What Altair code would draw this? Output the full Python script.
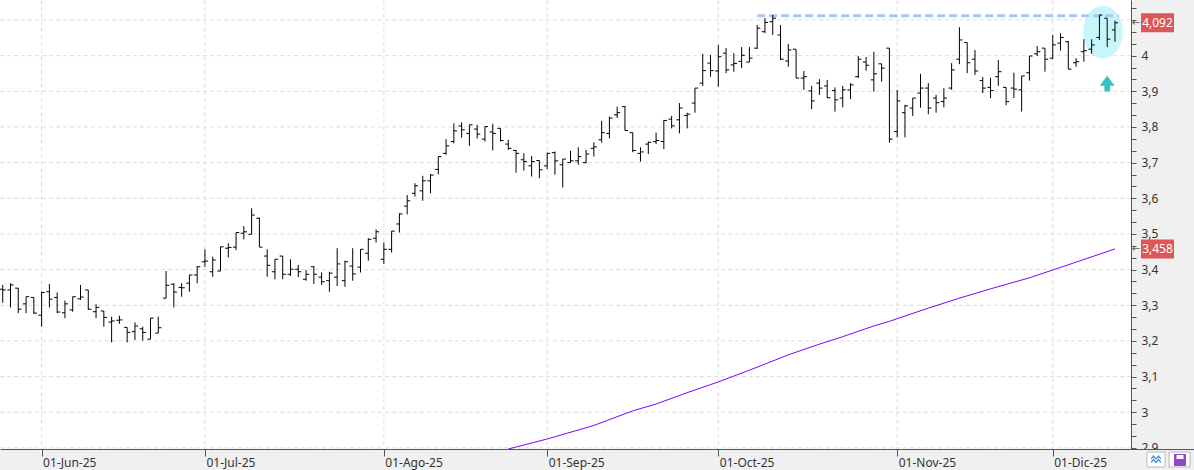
import altair as alt
import pandas as pd

# ---------------- data ----------------
dates = pd.bdate_range("2025-05-26", "2025-12-11")  # 144 sessions

opens = [
    3.345, 3.343, 3.348, 3.304, 3.322, 3.272, 3.338, 3.322, 3.279, 3.287,
    3.318, 3.343, 3.282, 3.284, 3.253, 3.258, 3.238, 3.226, 3.234, 3.205,
    3.222, 3.320, 3.359, 3.350, 3.362, 3.385, 3.422, 3.394, 3.396, 3.460,
    3.463, 3.502, 3.499, 3.544, 3.438, 3.394, 3.438, 3.387, 3.401, 3.373,
    3.408, 3.379, 3.369, 3.379, 3.369, 3.410, 3.407, 3.446, 3.488, 3.429,
    3.457, 3.528, 3.578, 3.614, 3.621, 3.649, 3.681, 3.726, 3.759, 3.803,
    3.782, 3.794, 3.766, 3.786, 3.796, 3.752, 3.734, 3.708, 3.691, 3.706,
    3.691, 3.728, 3.694, 3.700, 3.705, 3.700, 3.740, 3.764, 3.782, 3.834,
    3.857, 3.784, 3.726, 3.752, 3.759, 3.759, 3.822, 3.820, 3.832, 3.867,
    3.923, 3.979, 3.957, 4.007, 3.974, 3.984, 3.982, 4.021, 4.067, 4.095,
    4.058, 3.985, 4.018, 3.937, 3.901, 3.923, 3.915, 3.902, 3.881, 3.904,
    3.941, 3.982, 3.932, 3.977, 4.021, 3.787, 3.840, 3.853, 3.895, 3.909,
    3.881, 3.871, 3.909, 3.990, 4.037, 3.990, 3.930, 3.911, 3.941, 3.911,
    3.909, 3.904, 3.952, 4.005, 4.021, 3.993, 4.035, 4.039, 3.980, 4.011,
    4.018, 4.051, 4.105, 4.072]

highs = [
    3.357, 3.362, 3.348, 3.324, 3.322, 3.338, 3.360, 3.336, 3.313, 3.324,
    3.357, 3.343, 3.303, 3.284, 3.268, 3.271, 3.238, 3.252, 3.240, 3.264,
    3.268, 3.396, 3.362, 3.362, 3.385, 3.410, 3.457, 3.436, 3.464, 3.474,
    3.504, 3.522, 3.572, 3.546, 3.457, 3.429, 3.438, 3.429, 3.413, 3.399,
    3.410, 3.392, 3.394, 3.460, 3.425, 3.460, 3.457, 3.488, 3.513, 3.476,
    3.508, 3.558, 3.609, 3.642, 3.663, 3.668, 3.717, 3.766, 3.810, 3.813,
    3.806, 3.806, 3.801, 3.809, 3.796, 3.764, 3.736, 3.726, 3.719, 3.706,
    3.728, 3.731, 3.710, 3.733, 3.743, 3.736, 3.757, 3.817, 3.829, 3.857,
    3.859, 3.784, 3.743, 3.759, 3.784, 3.820, 3.831, 3.867, 3.840, 3.909,
    4.005, 4.002, 4.030, 4.021, 4.007, 4.024, 4.024, 4.086, 4.105, 4.114,
    4.086, 4.033, 4.018, 3.957, 3.915, 3.934, 3.932, 3.911, 3.915, 3.923,
    3.999, 3.996, 4.011, 3.977, 4.021, 3.904, 3.862, 3.881, 3.949, 3.923,
    3.890, 3.909, 3.979, 4.080, 4.037, 4.016, 3.940, 3.938, 3.988, 3.911,
    3.952, 3.943, 3.999, 4.027, 4.021, 4.058, 4.063, 4.041, 3.993, 4.046,
    4.046, 4.114, 4.105, 4.098]

lows = [
    3.307, 3.294, 3.278, 3.278, 3.276, 3.240, 3.294, 3.278, 3.264, 3.282,
    3.315, 3.287, 3.264, 3.240, 3.196, 3.248, 3.196, 3.203, 3.201, 3.205,
    3.222, 3.320, 3.294, 3.324, 3.338, 3.362, 3.408, 3.380, 3.396, 3.434,
    3.455, 3.485, 3.499, 3.463, 3.380, 3.373, 3.373, 3.382, 3.379, 3.369,
    3.360, 3.357, 3.338, 3.354, 3.352, 3.369, 3.392, 3.425, 3.476, 3.416,
    3.448, 3.504, 3.555, 3.605, 3.593, 3.614, 3.667, 3.722, 3.754, 3.770,
    3.747, 3.768, 3.759, 3.734, 3.759, 3.736, 3.672, 3.678, 3.661, 3.656,
    3.682, 3.666, 3.630, 3.700, 3.694, 3.698, 3.717, 3.756, 3.768, 3.825,
    3.790, 3.729, 3.703, 3.724, 3.752, 3.738, 3.796, 3.782, 3.796, 3.840,
    3.915, 3.941, 3.913, 3.951, 3.955, 3.965, 3.982, 4.019, 4.063, 4.058,
    3.988, 3.969, 3.937, 3.904, 3.850, 3.890, 3.881, 3.843, 3.855, 3.878,
    3.937, 3.958, 3.899, 3.927, 3.756, 3.771, 3.771, 3.831, 3.854, 3.836,
    3.840, 3.855, 3.904, 3.976, 3.951, 3.946, 3.895, 3.881, 3.915, 3.861,
    3.881, 3.843, 3.930, 3.999, 3.955, 3.990, 4.014, 3.962, 3.969, 3.983,
    4.005, 4.044, 4.024, 4.039]

closes = [
    3.343, 3.357, 3.289, 3.324, 3.278, 3.336, 3.317, 3.281, 3.304, 3.324,
    3.323, 3.289, 3.294, 3.266, 3.256, 3.259, 3.224, 3.242, 3.224, 3.264,
    3.237, 3.356, 3.337, 3.349, 3.385, 3.408, 3.424, 3.427, 3.464, 3.462,
    3.504, 3.506, 3.553, 3.463, 3.412, 3.429, 3.387, 3.401, 3.394, 3.387,
    3.387, 3.366, 3.390, 3.416, 3.422, 3.388, 3.457, 3.485, 3.506, 3.457,
    3.508, 3.556, 3.593, 3.635, 3.649, 3.665, 3.717, 3.747, 3.789, 3.792,
    3.806, 3.780, 3.801, 3.782, 3.762, 3.740, 3.726, 3.703, 3.703, 3.680,
    3.726, 3.705, 3.710, 3.705, 3.717, 3.724, 3.744, 3.784, 3.825, 3.840,
    3.790, 3.734, 3.730, 3.757, 3.762, 3.818, 3.803, 3.853, 3.836, 3.909,
    3.958, 3.958, 3.997, 3.960, 3.978, 4.001, 3.993, 4.077, 4.093, 4.105,
    3.990, 4.016, 3.937, 3.941, 3.873, 3.909, 3.882, 3.876, 3.904, 3.918,
    3.990, 3.973, 3.949, 3.965, 3.766, 3.873, 3.859, 3.881, 3.909, 3.853,
    3.868, 3.881, 3.960, 4.044, 3.980, 3.957, 3.909, 3.902, 3.955, 3.871,
    3.906, 3.943, 3.999, 4.011, 3.990, 4.030, 4.051, 3.962, 3.983, 4.014,
    4.030, 4.114, 4.046, 4.092]

# moving average (purple line), sampled at session indices
ma_idx = [65, 70, 76, 81, 84, 88, 92, 96, 101, 105, 108, 112, 114, 119,
          123, 127, 132, 135, 138, 143]
ma_val = [2.897, 2.925, 2.963, 3.004, 3.023, 3.055, 3.085, 3.118, 3.161,
          3.191, 3.212, 3.242, 3.255, 3.292, 3.320, 3.346, 3.377, 3.399,
          3.421, 3.458]

month_labels = ["01-Jun-25", "01-Jul-25", "01-Ago-25", "01-Sep-25",
                "01-Oct-25", "01-Nov-25", "01-Dic-25"]
y_major = [2.9, 3.0, 3.1, 3.2, 3.3, 3.4, 3.5, 3.6, 3.7, 3.8, 3.9, 4.0, 4.1]

resistance_level = 4.112
resistance_from = 97
resistance_to = 143.5
highlight_i, highlight_v = 141.46, 4.066
signal_i, signal_v = 142.0, 3.921

# ---------------- build ----------------
n = len(closes)
month_tick_idx = [i for i in range(1, n) if dates[i].month != dates[i - 1].month]

df = pd.DataFrame({"i": list(range(n)), "date": dates.strftime("%Y-%m-%d"),
                   "o": opens, "h": highs, "l": lows, "c": closes})
df["il"] = df["i"] - 0.4
df["ir"] = df["i"] + 0.4

FONT = "Noto Sans"
xscale = alt.Scale(domain=[-0.35, 145.06], nice=False, zero=False)
yscale = alt.Scale(domain=[2.897, 4.156], nice=False, zero=False)

x_expr = "".join(f"datum.value == {i} ? '{lab}' : " for i, lab in zip(month_tick_idx, month_labels)) + "''"
xaxis = alt.Axis(values=month_tick_idx, labelExpr=x_expr, grid=False, title=None,
                 tickSize=7, labelPadding=1, labelAlign="left", labelBaseline="top",
                 labelOffset=1, labelFlush=False, labelOverlap=False,
                 domainColor="#555555", tickColor="#555555", labelColor="#333333",
                 labelFont=FONT, labelFontSize=12)

y_ticks = [round(2.9 + k / 30, 4) for k in range(38)]
# major labels only; the 4,1 label sits under the last-price tag in the reference
y_expr = ("abs(datum.value*10 - round(datum.value*10)) < 0.01 && datum.value < 4.05 ? "
          "replace(format(datum.value, '.1~f'), '.', ',') : ''")
yaxis = alt.Axis(orient="right", values=y_ticks, labelExpr=y_expr, grid=False, title=None,
                 tickSize=5, labelPadding=5, labelOverlap=False, labelFlush=False,
                 domainColor="#555555", tickColor="#555555", labelColor="#333333",
                 labelFont=FONT, labelFontSize=12, labelBaseline="middle")


def X(f):
    return alt.X(f, type="quantitative", scale=xscale, axis=xaxis)


def Y(f):
    return alt.Y(f, type="quantitative", scale=yscale, axis=yaxis)


grid_h = alt.Chart(pd.DataFrame({"v": y_major})).mark_rule(
    color="#dddddd", strokeDash=[4, 3], strokeWidth=1).encode(y=Y("v"))
grid_v = alt.Chart(pd.DataFrame({"i": month_tick_idx})).mark_rule(
    color="#dddddd", strokeDash=[4, 3], strokeWidth=1).encode(x=X("i"))

ellipse_path = "M -0.75 0 A 0.75 1 0 1 0 0.75 0 A 0.75 1 0 1 0 -0.75 0 Z"
ellipse = alt.Chart(pd.DataFrame({"i": [highlight_i], "v": [highlight_v]})).mark_point(
    shape=ellipse_path, size=2767, filled=True, color="#c6f6fa", opacity=1, strokeWidth=0
).encode(x=X("i"), y=Y("v"))

ma = alt.Chart(pd.DataFrame({"i": ma_idx, "v": ma_val})).mark_line(
    color="#8000ff", strokeWidth=1, clip=True).encode(x=X("i"), y=Y("v"))

resistance = alt.Chart(pd.DataFrame({"a": [resistance_from], "b": [resistance_to],
                                     "v": [resistance_level]})).mark_rule(
    color="#a9c8ee", strokeWidth=3, strokeDash=[8, 4]).encode(x=X("a"), x2="b", y=Y("v"))

hl = alt.Chart(df).mark_rule(color="black", strokeWidth=1).encode(x=X("i"), y=Y("l"), y2="h")
op = alt.Chart(df).mark_rule(color="black", strokeWidth=1).encode(x=X("il"), x2="i", y=Y("o"))
cl = alt.Chart(df).mark_rule(color="black", strokeWidth=1).encode(x=X("i"), x2="ir", y=Y("c"))

arrow_path = "M 0 -1 L 0.94 0.25 L 0.36 0.25 L 0.36 0.96 L -0.36 0.96 L -0.36 0.25 L -0.94 0.25 Z"
arrow = alt.Chart(pd.DataFrame({"i": [signal_i], "v": [signal_v]})).mark_point(
    shape=arrow_path, size=256, filled=True, color="#33c3c6", opacity=1, strokeWidth=0
).encode(x=X("i"), y=Y("v"))

one = pd.DataFrame({"a": [0]})
corner = alt.Chart(one).mark_rect(color="#f0f0f0").encode(
    x=alt.value(1131.5), x2=alt.value(1194), y=alt.value(449.5), y2=alt.value(470))
corner_line = alt.Chart(one).mark_rule(color="#555555", strokeWidth=1).encode(
    x=alt.value(1131), x2=alt.value(1194), y=alt.value(449.5))
btn1 = alt.Chart(one).mark_rect(fill="white", stroke="#b8b8b8", strokeWidth=1).encode(
    x=alt.value(1147), x2=alt.value(1165), y=alt.value(452), y2=alt.value(467))
btn2 = alt.Chart(one).mark_rect(fill="white", stroke="#b8b8b8", strokeWidth=1).encode(
    x=alt.value(1169), x2=alt.value(1190), y=alt.value(452), y2=alt.value(467))
zig_path = "M -1 -0.1 L -0.5 -0.7 L 0 -0.1 L 0.5 -0.7 L 1 -0.1 M -1 0.6 L -0.5 0 L 0 0.6 L 0.5 0 L 1 0.6"
zig = alt.Chart(one).mark_point(shape=zig_path, size=100, filled=False, color="#4a9ad8",
                                opacity=1, strokeWidth=1.2).encode(
    x=alt.value(1156), y=alt.value(459.5))
floppy = alt.Chart(one).mark_rect(color="#8e48c8").encode(
    x=alt.value(1174), x2=alt.value(1186), y=alt.value(454), y2=alt.value(466))
floppy_in = alt.Chart(one).mark_rect(color="white").encode(
    x=alt.value(1176.5), x2=alt.value(1183.5), y=alt.value(455), y2=alt.value(459))


def fmt(v):
    return f"{v:.3f}".replace(".", ",")


tags = pd.DataFrame({"v": [closes[-1], ma_val[-1]], "t": [fmt(closes[-1]), fmt(ma_val[-1])]})
tag_box = alt.Chart(tags).mark_rect(color="#e05555", height=19).encode(
    x=alt.value(1141), x2=alt.value(1174), y=Y("v"))
tag_txt = alt.Chart(tags).mark_text(color="white", font=FONT, fontSize=12,
                                    align="center", baseline="middle").encode(
    x=alt.value(1157.5), y=Y("v"), text="t:N")
tag_arrow = alt.Chart(tags).mark_text(text="←", color="#555555", fontSize=10, font="DejaVu Sans",
                                      align="center", baseline="middle").encode(
    x=alt.value(1136), y=Y("v"))

chart = alt.layer(
    grid_h, grid_v, ellipse, ma, resistance, hl, op, cl, arrow,
    corner, corner_line, btn1, btn2, zig, floppy, floppy_in,
    tag_box, tag_txt, tag_arrow
).properties(
    width=1131, height=449,
    autosize=alt.AutoSizeParams(type="none"),
    padding={"left": 0, "top": 0, "right": 63, "bottom": 21},
    background="#f0f0f0",
).configure_view(fill="white", strokeWidth=0)

chart.save("out.html", embed_options={"renderer": "svg", "actions": False})
